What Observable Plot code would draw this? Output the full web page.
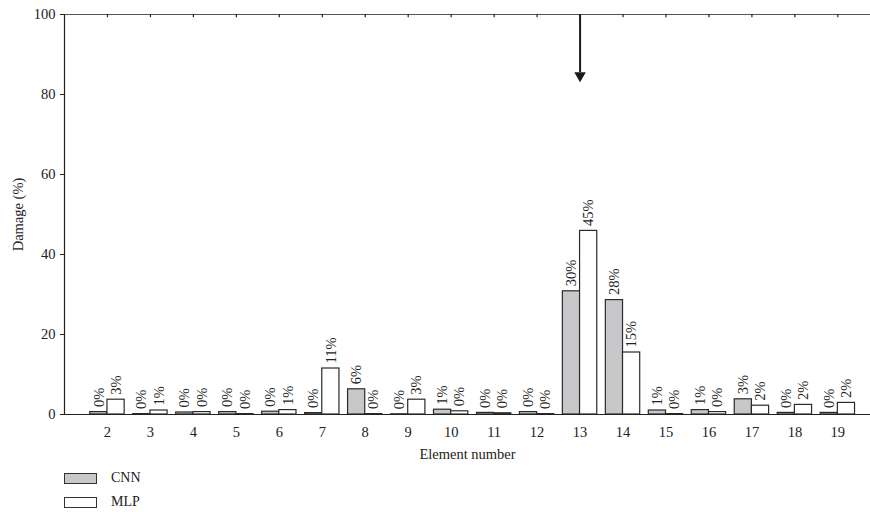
<!DOCTYPE html>
<html>
<head>
<meta charset="utf-8">
<script src="https://cdn.jsdelivr.net/npm/d3@7"></script>
<script src="https://cdn.jsdelivr.net/npm/@observablehq/plot@0.6"></script>
<style>
  body { margin: 0; background: #fff; font-family: "Liberation Serif", serif; }
  #wrap { position: relative; width: 870px; height: 512px; }
  .lg-box { position: absolute; width: 31px; height: 9px; border: 1.2px solid #333; }
  .lg-txt { position: absolute; font-size: 14px; color: #222; line-height: 14px; }
</style>
</head>
<body>
<div id="wrap"></div>
<script>
const elements = [2, 3, 4, 5, 6, 7, 8, 9, 10, 11, 12, 13, 14, 15, 16, 17, 18, 19];
const cnnValues = [0.6, 0.1, 0.5, 0.6, 0.7, 0.35, 6.3, 0.05, 1.2, 0.4, 0.6, 30.8, 28.6, 1.0, 1.1, 3.8, 0.4, 0.4];
const mlpValues = [3.7, 1.0, 0.6, 0.1, 1.1, 11.5, 0.1, 3.7, 0.8, 0.3, 0.1, 45.9, 15.5, 0.1, 0.6, 2.2, 2.4, 2.9];
const cnnLabels = ["0%", "0%", "0%", "0%", "0%", "0%", "6%", "0%", "1%", "0%", "0%", "30%", "28%", "1%", "1%", "3%", "0%", "0%"];
const mlpLabels = ["3%", "1%", "0%", "0%", "1%", "11%", "0%", "3%", "0%", "0%", "0%", "45%", "15%", "0%", "0%", "2%", "2%", "2%"];
const yTicks = [0, 20, 40, 60, 80, 100];
const seriesNames = ["CNN", "MLP"];
const arrowElement = 13;
const arrowStart = 100;
const arrowEnd = 83;

const rows = [];
elements.forEach((e, i) => {
  rows.push({element: e, series: "CNN", value: cnnValues[i], label: cnnLabels[i]});
  rows.push({element: e, series: "MLP", value: mlpValues[i], label: mlpLabels[i]});
});
const offset = s => (s === "CNN" ? -0.4 : 0);
const BW = 0.4;

const chart = Plot.plot({
  width: 870,
  height: 462,
  marginLeft: 64,
  marginRight: 0,
  marginTop: 14,
  marginBottom: 48,
  style: {fontFamily: "Liberation Serif, serif", fontSize: "14px", color: "#222", background: "#fff"},
  x: {type: "linear", domain: [1, 19.76]},
  y: {domain: [0, 100]},
  marks: [
    Plot.rectY(rows, {
      x1: d => d.element + offset(d.series),
      x2: d => d.element + offset(d.series) + BW,
      y1: 0,
      y2: "value",
      fill: d => d.series === "CNN" ? "#c8c8ca" : "#ffffff",
      stroke: "#2a2a2a",
      strokeWidth: 1.2
    }),
    Plot.text(rows, {
      x: d => d.element + offset(d.series) + BW / 2,
      y: "value",
      text: "label",
      rotate: -90,
      textAnchor: "start",
      dy: -5,
      fontSize: 14.5,
      fill: "#222"
    }),
    Plot.ruleY([0], {stroke: "#222", strokeWidth: 1.2}),
    Plot.ruleY([100], {stroke: "#555", strokeWidth: 1.2}),
    Plot.ruleX([1], {y1: 0, y2: 100, stroke: "#222", strokeWidth: 1.2}),
    Plot.ruleX(elements, {x: d => d, y1: 100, y2: 99.2, stroke: "#222", strokeWidth: 1.2}),
    Plot.ruleX([arrowElement], {y1: arrowStart, y2: arrowEnd + 2.5, stroke: "#1a1a1a", strokeWidth: 2}),
    Plot.dot([arrowElement], {x: d => d, y: arrowEnd + 1.7, symbol: "triangle2", rotate: 180, r: 5.5, fill: "#1a1a1a", stroke: "none"}),
    Plot.axisY(yTicks, {
      tickSize: 4, tickPadding: 5, fontSize: 14.5,
      label: "Damage (%)", labelAnchor: "center", labelArrow: "none", labelOffset: 52
    }),
    Plot.axisX(elements, {
      tickSize: 0, tickPadding: 12, fontSize: 14.5,
      label: "Element number", labelAnchor: "center", labelArrow: "none", labelOffset: 44
    })
  ]
});

const wrap = document.getElementById("wrap");
wrap.appendChild(chart);
const legendFills = ["#c8c8ca", "#ffffff"];
const legendTops = [473, 497];
seriesNames.forEach((name, i) => {
  const b = document.createElement("div");
  b.className = "lg-box";
  b.style.left = "64px";
  b.style.top = legendTops[i] + "px";
  b.style.background = legendFills[i];
  wrap.appendChild(b);
  const t = document.createElement("div");
  t.className = "lg-txt";
  t.style.left = "111px";
  t.style.top = (legendTops[i] - 2) + "px";
  t.textContent = name;
  wrap.appendChild(t);
});
</script>
</body>
</html>
